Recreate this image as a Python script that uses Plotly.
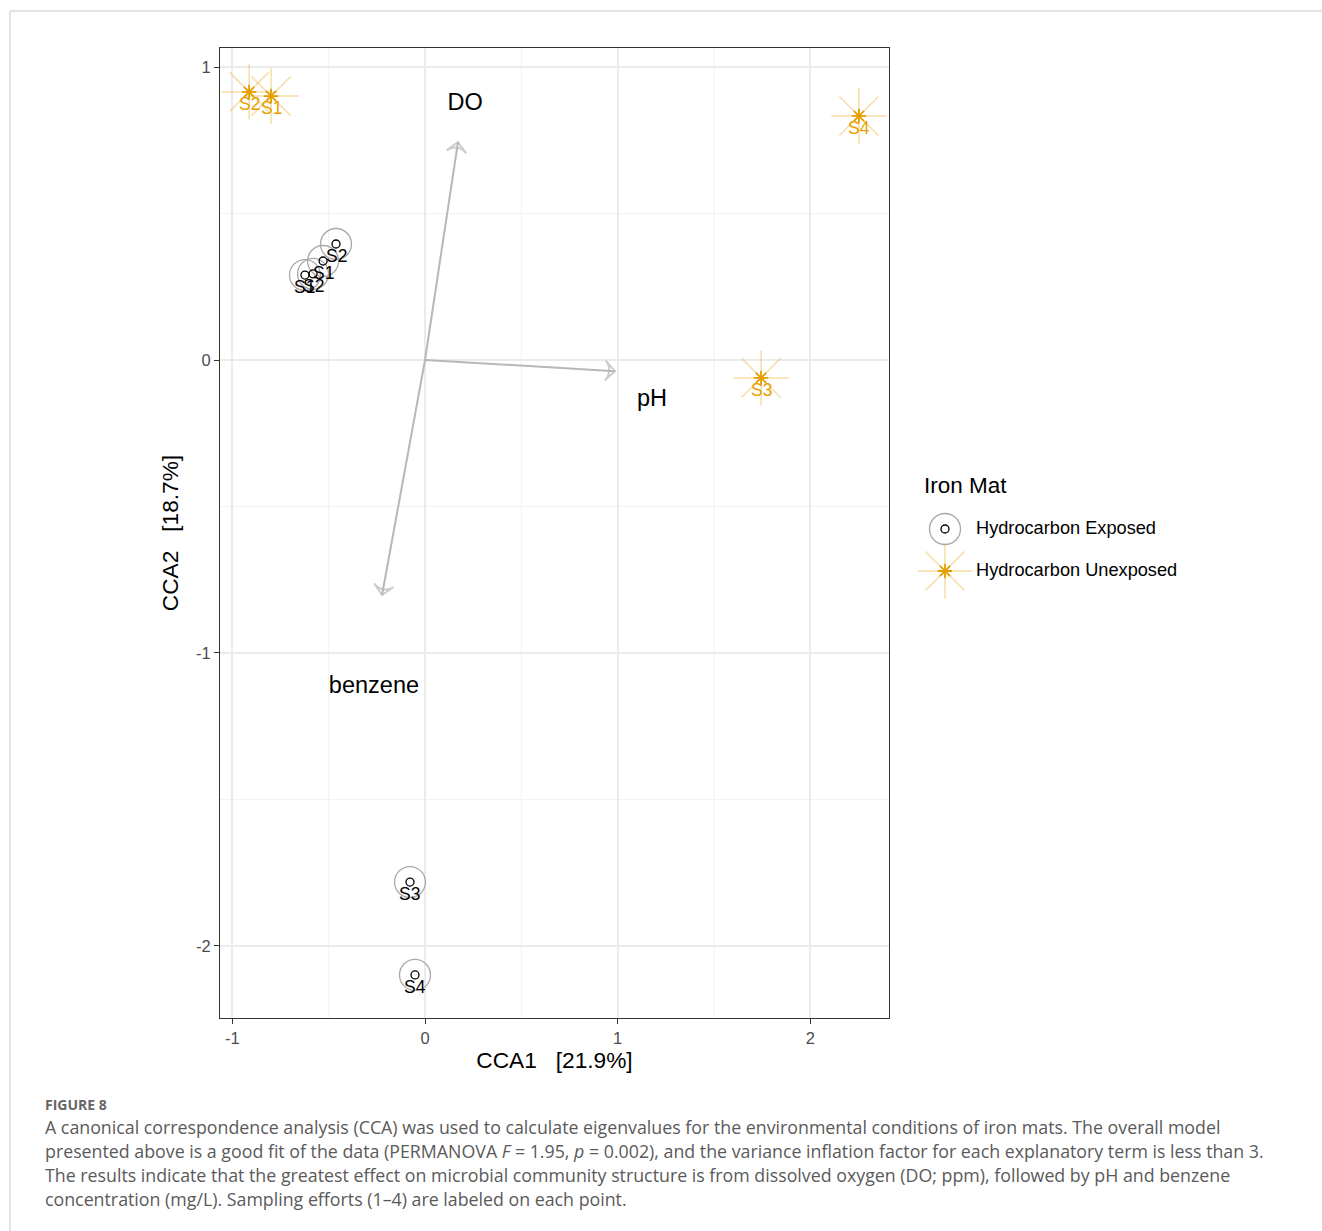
import plotly.graph_objects as go

# ---------------- data ----------------
exp_labels = ["S1", "S2", "S1", "S2", "S3", "S4"]
exp_x = [-0.529, -0.462, -0.623, -0.581, -0.078, -0.052]
exp_y = [0.338, 0.396, 0.290, 0.294, -1.782, -2.099]

unexp_labels = ["S1", "S2", "S3", "S4"]
unexp_x = [-0.799, -0.913, 1.744, 2.252]
unexp_y = [0.901, 0.915, -0.061, 0.833]

env_names = ["DO", "pH", "benzene"]
env_x = [0.171, 0.986, -0.223]
env_y = [0.744, -0.038, -0.802]
env_label_x = [0.208, 1.178, -0.265]
env_label_y = [0.874, -0.137, -1.116]

legend_title = "Iron Mat"
legend_names = ["Hydrocarbon Exposed", "Hydrocarbon Unexposed"]

x_ticks = [-1, 0, 1, 2]
y_ticks = [-2, -1, 0, 1]
x_minor = [-0.5, 0.5, 1.5]
y_minor = [-1.5, -0.5, 0.5]

# ---------------- layout constants ----------------
W, H = 1322, 1231
PL, PR, PT, PB = 220, 889, 48, 1018
ORANGE = "#E69F00"
ORANGE_L = "rgba(230,159,0,0.35)"
GREY_C = "#a8a8a8"
ARROW = "#b8b8b8"
FONT = "Liberation Sans, Arial, Helvetica, sans-serif"

fig = go.Figure()

# exposed: big grey circle + small black circle
fig.add_trace(go.Scatter(x=exp_x, y=exp_y, mode="markers", showlegend=False,
                         marker=dict(symbol="circle-open", size=31, color=GREY_C, line=dict(width=1.3)),
                         hoverinfo="skip"))
fig.add_trace(go.Scatter(x=exp_x, y=exp_y, mode="markers", showlegend=False,
                         marker=dict(symbol="circle-open", size=8, color="black", line=dict(width=1.3)),
                         hoverinfo="skip"))
# unexposed: big light asterisk + small orange asterisk
fig.add_trace(go.Scatter(x=unexp_x, y=unexp_y, mode="markers", showlegend=False,
                         marker=dict(symbol="asterisk-open", size=46, color=ORANGE_L, line=dict(width=1.5, color=ORANGE_L)),
                         hoverinfo="skip"))
fig.add_trace(go.Scatter(x=unexp_x, y=unexp_y, mode="markers", showlegend=False,
                         marker=dict(symbol="asterisk-open", size=12, color=ORANGE, line=dict(width=1.8, color=ORANGE)),
                         hoverinfo="skip"))

# arrows
for nm, ex, ey in zip(env_names, env_x, env_y):
    fig.add_trace(go.Scatter(x=[0, ex], y=[0, ey], mode="lines+markers", showlegend=False, hoverinfo="skip",
                             line=dict(color=ARROW, width=2),
                             marker=dict(symbol=["circle", "arrow-wide-open"], size=[0, 14], angleref="previous",
                                         color=ARROW, line=dict(width=2, color=ARROW))))
fig.add_trace(go.Scatter(x=env_label_x, y=env_label_y, mode="text", text=env_names, showlegend=False,
                         textfont=dict(family=FONT, size=23.5, color="black"), hoverinfo="skip"))

# manual legend on auxiliary axes (pixel coordinate system)
LX0, LX1, LY0, LY1 = 900, 1300, 460, 600
fig.add_trace(go.Scatter(x=[945], y=[529], xaxis="x2", yaxis="y2", mode="markers", showlegend=False,
                         marker=dict(symbol="circle-open", size=31, color=GREY_C, line=dict(width=1.3)), hoverinfo="skip"))
fig.add_trace(go.Scatter(x=[945], y=[529], xaxis="x2", yaxis="y2", mode="markers", showlegend=False,
                         marker=dict(symbol="circle-open", size=8, color="black", line=dict(width=1.3)), hoverinfo="skip"))
fig.add_trace(go.Scatter(x=[945], y=[571], xaxis="x2", yaxis="y2", mode="markers", showlegend=False,
                         marker=dict(symbol="asterisk-open", size=46, color=ORANGE_L, line=dict(width=1.5, color=ORANGE_L)), hoverinfo="skip"))
fig.add_trace(go.Scatter(x=[945], y=[571], xaxis="x2", yaxis="y2", mode="markers", showlegend=False,
                         marker=dict(symbol="asterisk-open", size=12, color=ORANGE, line=dict(width=1.8, color=ORANGE)), hoverinfo="skip"))
fig.add_trace(go.Scatter(x=[976, 976], y=[529, 571], xaxis="x2", yaxis="y2", mode="text", text=legend_names,
                         textposition="middle right", showlegend=False, hoverinfo="skip",
                         textfont=dict(family=FONT, size=18.2, color="black")))
fig.add_trace(go.Scatter(x=[924], y=[487], xaxis="x2", yaxis="y2", mode="text", text=[legend_title],
                         textposition="middle right", showlegend=False, hoverinfo="skip",
                         textfont=dict(family=FONT, size=22.5, color="black")))

shapes = []
# minor gridlines
for v in x_minor:
    shapes.append(dict(type="line", xref="x", yref="y domain", x0=v, x1=v, y0=0, y1=1,
                       line=dict(color="#f2f2f2", width=1), layer="below"))
for v in y_minor:
    shapes.append(dict(type="line", xref="x domain", yref="y", x0=0, x1=1, y0=v, y1=v,
                       line=dict(color="#f2f2f2", width=1), layer="below"))
# figure frame
shapes.append(dict(type="line", xref="paper", yref="paper", x0=10 / W, x1=1, y0=1 - 11 / H, y1=1 - 11 / H,
                   line=dict(color="#c8c8c8", width=1)))
shapes.append(dict(type="line", xref="paper", yref="paper", x0=10 / W, x1=10 / W, y0=1 - 11 / H, y1=0,
                   line=dict(color="#c8c8c8", width=1)))

annotations = []
# point labels (below each point)
for lbl, px, py in zip(exp_labels, exp_x, exp_y):
    annotations.append(dict(x=px, y=py, xref="x", yref="y", text=lbl, showarrow=False, yshift=-12,
                            xanchor="center", yanchor="middle", font=dict(family=FONT, size=17.5, color="black")))
for lbl, px, py in zip(unexp_labels, unexp_x, unexp_y):
    annotations.append(dict(x=px, y=py, xref="x", yref="y", text=lbl, showarrow=False, yshift=-12,
                            xanchor="center", yanchor="middle", font=dict(family=FONT, size=17.5, color=ORANGE)))

cap_font = dict(family="Open Sans, Noto Sans, sans-serif", size=17.8, color="#5a5a5a")
caption_lines = [
    "A canonical correspondence analysis (CCA) was used to calculate eigenvalues for the environmental conditions of iron mats. The overall model",
    "presented above is a good fit of the data (PERMANOVA <i>F</i> = 1.95, <i>p</i> = 0.002), and the variance inflation factor for each explanatory term is less than 3.",
    "The results indicate that the greatest effect on microbial community structure is from dissolved oxygen (DO; ppm), followed by pH and benzene",
    "concentration (mg/L). Sampling efforts (1–4) are labeled on each point.",
]
annotations.append(dict(xref="paper", yref="paper", x=43 / W, y=1 - 1104 / H, xanchor="left", yanchor="middle",
                        text="<b>FIGURE 8</b>", showarrow=False,
                        font=dict(family="Open Sans, Noto Sans, sans-serif", size=14, color="#666666")))
for i, t in enumerate(caption_lines):
    annotations.append(dict(xref="paper", yref="paper", x=43 / W, y=1 - (1127 + 24 * i) / H,
                            xanchor="left", yanchor="middle", text=t, showarrow=False, font=cap_font))

NB = "\u00a0"
axis_common = dict(showline=True, linecolor="#333333", linewidth=1.2, mirror=True, ticks="outside",
                   ticklen=5, tickcolor="#333333", tickwidth=1.2, showgrid=True, gridcolor="#ebebeb",
                   gridwidth=1.5, zeroline=False, automargin=False,
                   tickfont=dict(family=FONT, size=16.5, color="#4d4d4d"))

fig.update_layout(
    width=W, height=H, margin=dict(l=0, r=0, t=0, b=0),
    paper_bgcolor="white", plot_bgcolor="white", showlegend=False,
    xaxis=dict(domain=[PL / W, PR / W], range=[-1.064, 2.408], tickvals=x_ticks,
               ticktext=[str(v) for v in x_ticks],
               title=dict(text=f"CCA1{NB}{NB}{NB}[21.9%]", font=dict(family=FONT, size=22.7, color="black"), standoff=6),
               **axis_common),
    yaxis=dict(domain=[1 - PB / H, 1 - PT / H], range=[-2.246, 1.065], tickvals=y_ticks,
               ticktext=[str(v) for v in y_ticks],
               title=dict(text=f"CCA2{NB}{NB}{NB}[18.7%]", font=dict(family=FONT, size=22.7, color="black"), standoff=10),
               **axis_common),
    xaxis2=dict(domain=[LX0 / W, LX1 / W], range=[LX0, LX1], visible=False, anchor="y2", fixedrange=True),
    yaxis2=dict(domain=[1 - LY1 / H, 1 - LY0 / H], range=[LY1, LY0], visible=False, anchor="x2", fixedrange=True),
    shapes=shapes, annotations=annotations,
)

fig.write_html("out.html", config={"displayModeBar": False},
               post_script="document.body.style.margin='0';document.body.style.overflow='hidden';")
